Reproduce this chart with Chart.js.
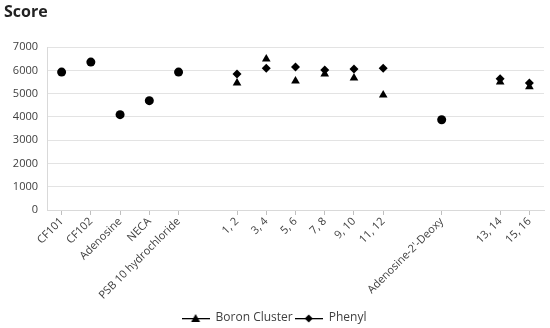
<!DOCTYPE html>
<html lang="en">
<head>
  <meta charset="UTF-8">
  <title>Score</title>
  <script src="https://cdn.jsdelivr.net/npm/chart.js"></script>
  <style>
    html, body { margin: 0; padding: 0; background: #fff; }
    #wrap { width: 550px; height: 328px; }
  </style>
</head>
<body>
  <div id="wrap"><canvas id="score-plot"></canvas></div>

  <script>
    // categories ('' = empty gap slot)
    const labels = ['CF101', 'CF102', 'Adenosine', 'NECA', 'PSB 10 hydrochloride', '',
      '1, 2', '3, 4', '5, 6', '7, 8', '9, 10', '11, 12', '',
      "Adenosine-2'-Deoxy", '', '13, 14', '15, 16'];

    const controls = [5930, 6360, 4100, 4700, 5930, null,
      null, null, null, null, null, null, null,
      3880, null, null, null];
    const boron = [null, null, null, null, null, null,
      5460, 6490, 5550, 5850, 5680, 4950, null,
      null, null, 5500, 5300];
    const phenyl = [null, null, null, null, null, null,
      5850, 6100, 6150, 6020, 6060, 6100, null,
      null, null, 5640, 5460];

    const yTicks = [0, 1000, 2000, 3000, 4000, 5000, 6000, 7000];

    const txt = '#404040';
    const gridCol = '#e3e3e3';

    // legend icon: short line with the marker on it
    function legendIcon(style) {
      const c = document.createElement('canvas');
      c.width = 28; c.height = 12;
      const g = c.getContext('2d');
      g.fillStyle = '#000';
      g.fillRect(0, 6, 28, 1.3);
      g.beginPath();
      if (style === 'triangle') {
        g.moveTo(14, 2); g.lineTo(18.5, 10); g.lineTo(9.5, 10);
      } else {
        g.moveTo(14, 2.5); g.lineTo(18, 6.5); g.lineTo(14, 10.5); g.lineTo(10, 6.5);
      }
      g.closePath(); g.fill();
      return c;
    }
    const icons = { triangle: legendIcon('triangle'), rectRot: legendIcon('rectRot') };

    const ctx = document.getElementById('score-plot').getContext('2d');
    new Chart(ctx, {
      type: 'line',
      data: {
        labels: labels,
        datasets: [
          {
            label: 'Boron Cluster',
            data: boron,
            showLine: false,
            pointStyle: 'triangle',
            pointRadius: 5,
            backgroundColor: '#000',
            borderColor: '#000',
            borderWidth: 0
          },
          {
            label: 'Phenyl',
            data: phenyl,
            showLine: false,
            pointStyle: 'rectRot',
            pointRadius: 4.5,
            backgroundColor: '#000',
            borderColor: '#000',
            borderWidth: 0
          },
          {
            label: 'controls',
            data: controls,
            showLine: false,
            pointStyle: 'circle',
            pointRadius: 4.5,
            backgroundColor: '#000',
            borderColor: '#000',
            borderWidth: 0
          }
        ]
      },
      options: {
        responsive: true,
        maintainAspectRatio: false,
        animation: false,
        layout: { padding: { left: 4, right: 6, top: 0, bottom: -6 } },
        plugins: {
          tooltip: { enabled: false },
          title: {
            display: true,
            text: 'Score',
            align: 'start',
            color: '#222',
            font: { family: 'Open Sans', size: 16, weight: 'bold' },
            padding: { top: 3, bottom: 25 }
          },
          legend: {
            position: 'bottom',
            labels: {
              usePointStyle: true,
              pointStyleWidth: 28,
              color: txt,
              font: { family: 'Open Sans', size: 12 },
              padding: 2,
              filter: item => item.datasetIndex < 2,
              generateLabels: chart => chart.data.datasets.map((ds, i) => ({
                text: ds.label,
                datasetIndex: i,
                pointStyle: icons[ds.pointStyle] || 'circle',
                fillStyle: '#000',
                strokeStyle: '#000',
                lineWidth: 0,
                fontColor: txt
              }))
            }
          }
        },
        scales: {
          x: {
            type: 'category',
            offset: true,
            grid: {
              display: true,
              drawOnChartArea: false,
              tickLength: 5,
              tickColor: c => (labels[c.index] ? '#bfbfbf' : 'rgba(0,0,0,0)')
            },
            border: { color: '#d9d9d9' },
            ticks: {
              autoSkip: false,
              minRotation: 45,
              maxRotation: 45,
              padding: 0,
              color: txt,
              font: { family: 'Open Sans', size: 11 }
            },
            afterFit: s => { s.height = 100; }
          },
          y: {
            min: 0,
            max: 7000,
            afterBuildTicks: s => { s.ticks = yTicks.map(v => ({ value: v })); },
            grid: { color: gridCol, drawTicks: false },
            border: { color: '#d9d9d9' },
            ticks: {
              padding: 9,
              color: txt,
              font: { family: 'Open Sans', size: 11 },
              callback: v => String(v)
            },
            afterFit: s => { s.width = 43; }
          }
        }
      }
    });
  </script>
</body>
</html>
